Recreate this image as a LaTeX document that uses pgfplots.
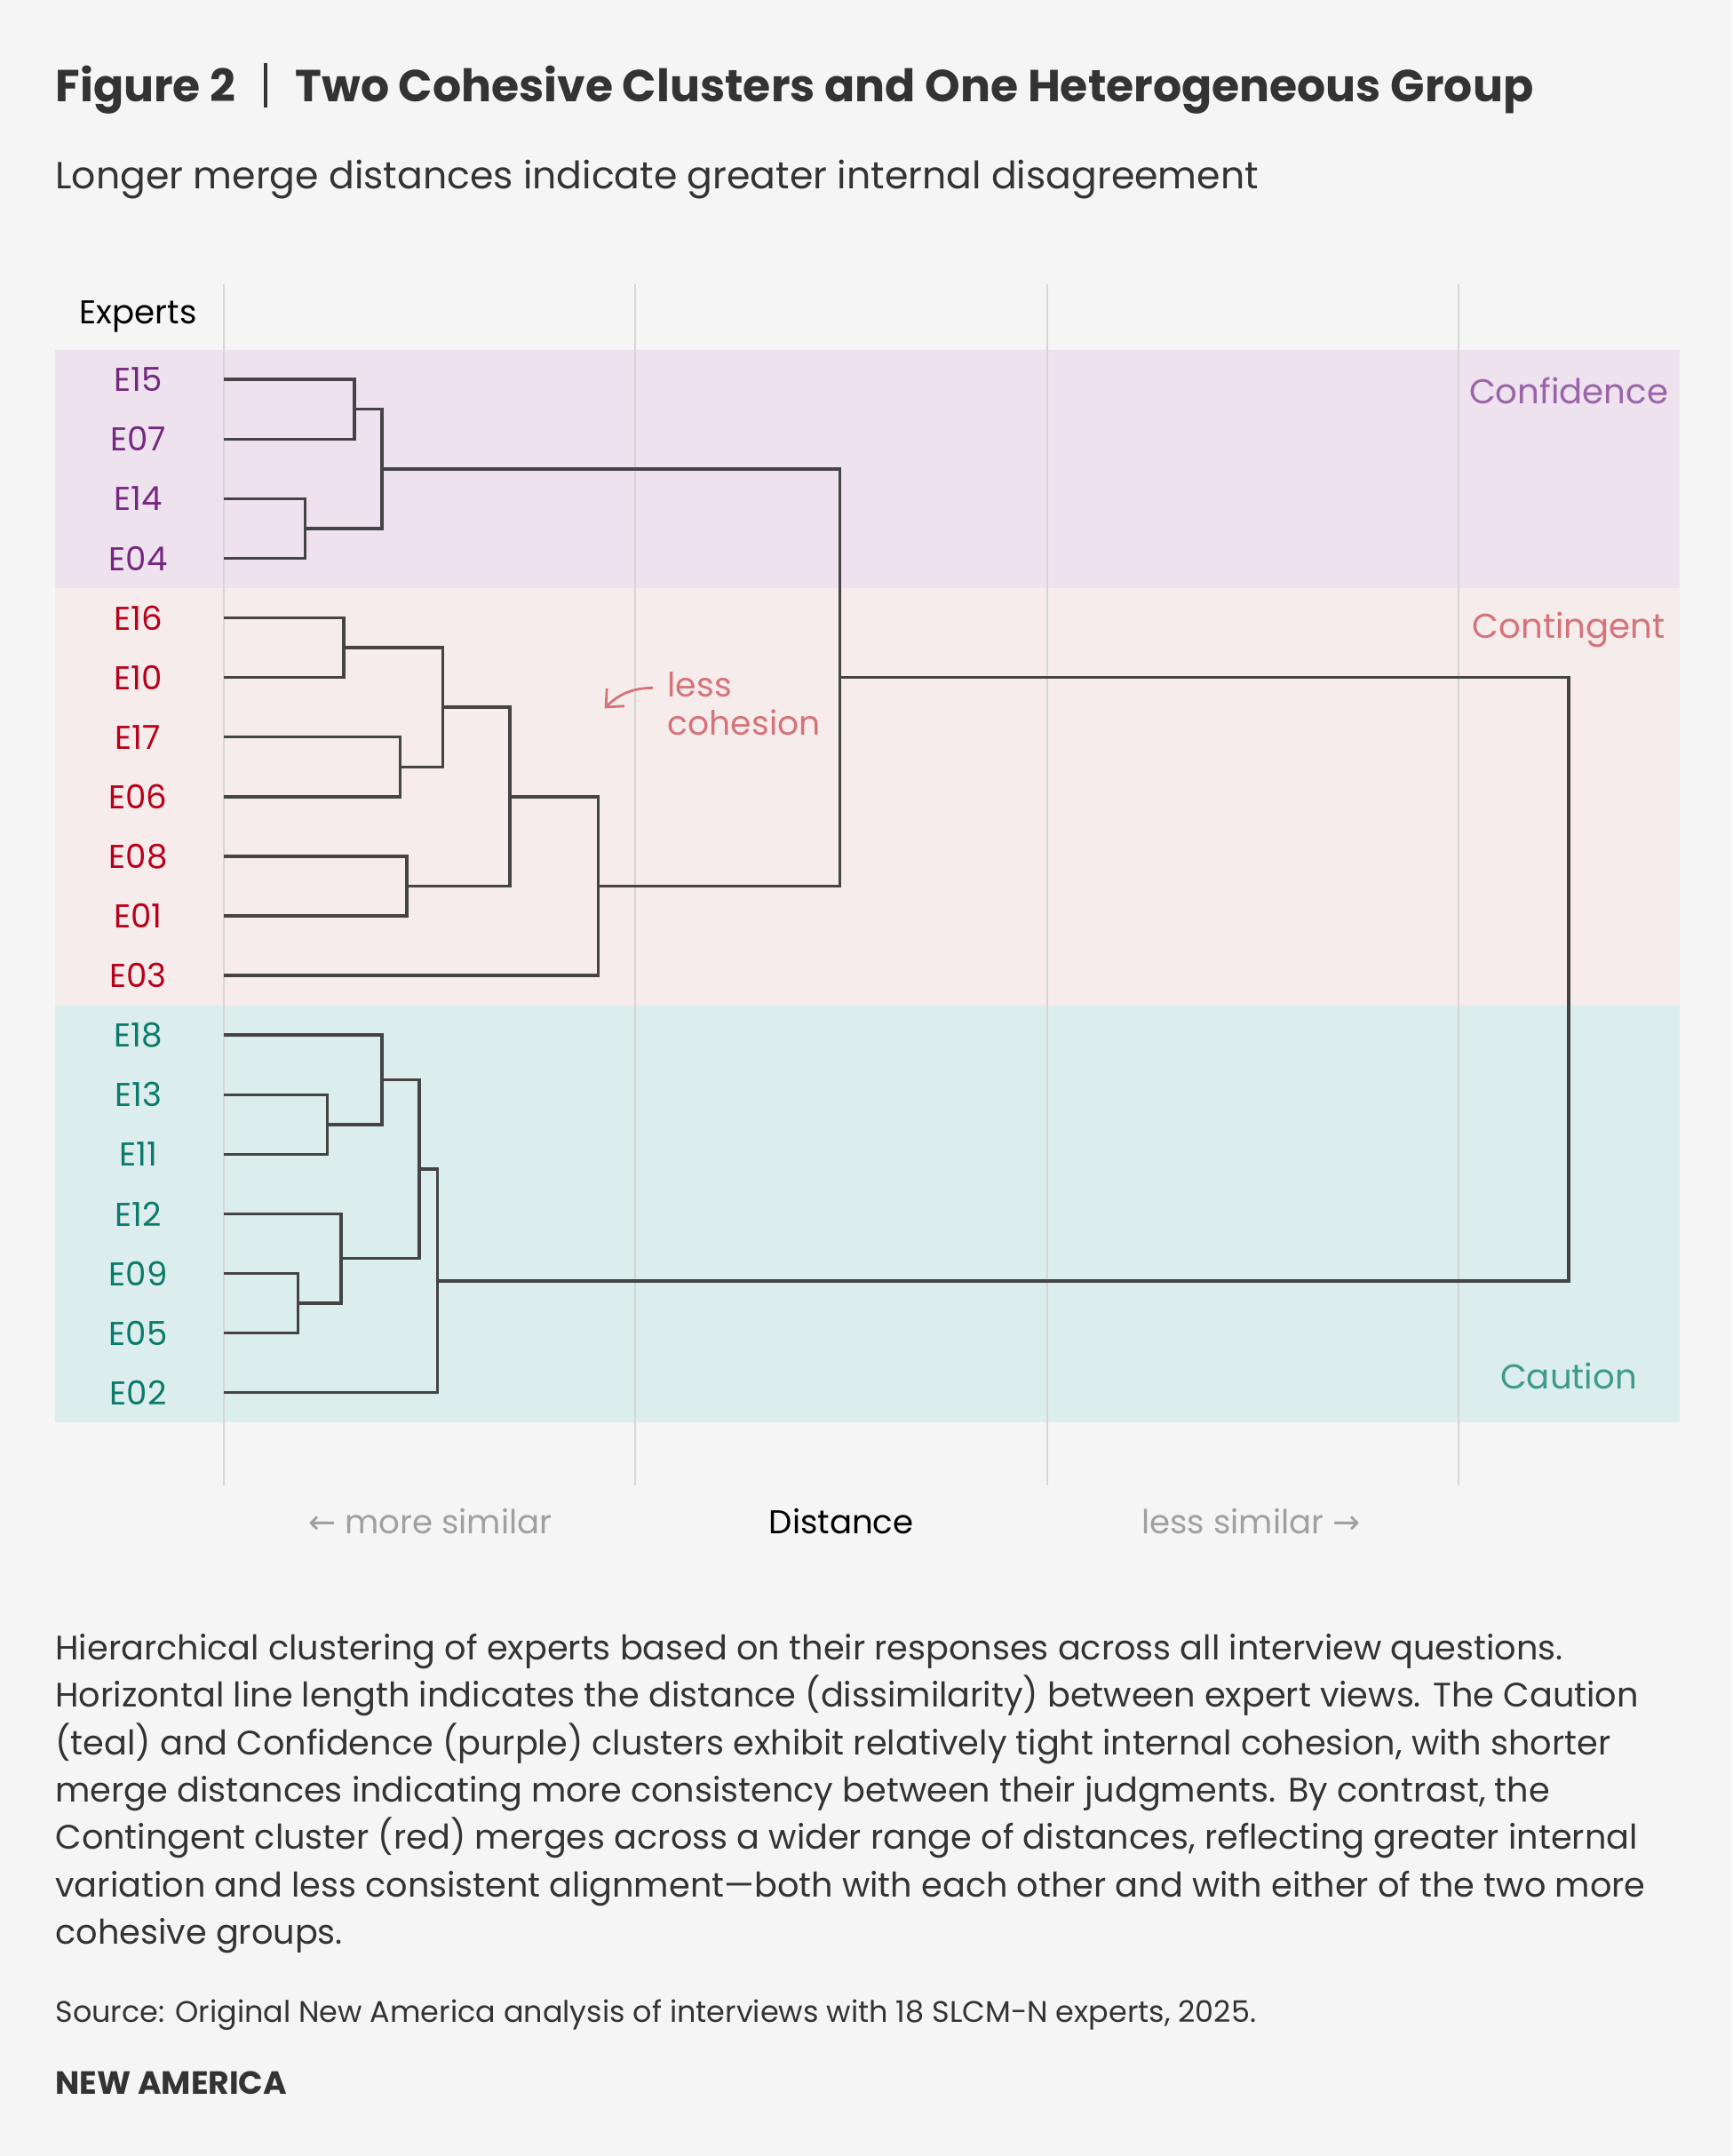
\documentclass[border=0pt]{standalone}
\usepackage{fontspec}
\setmainfont{Poppins}
\newfontfamily\symfont{DejaVu Sans}
\usepackage{pgfplots}
\pgfplotsset{compat=1.18}
\usetikzlibrary{arrows.meta}

\definecolor{bg}{HTML}{F5F5F5}
\definecolor{bandpurple}{HTML}{EEE2EF}
\definecolor{bandred}{HTML}{F6ECEC}
\definecolor{bandteal}{HTML}{DBEDEC}
\definecolor{labpurple}{HTML}{74297F}
\definecolor{labred}{HTML}{B8001B}
\definecolor{labteal}{HTML}{0B7A6B}
\definecolor{grppurple}{HTML}{9B64A8}
\definecolor{grpred}{HTML}{D5737A}
\definecolor{grpteal}{HTML}{3E9A8C}
\definecolor{dendro}{HTML}{444444}
\definecolor{gridc}{HTML}{D6D6D6}
\definecolor{txt}{HTML}{333333}
\definecolor{muted}{HTML}{A0A0A0}

\newcommand{\fs}[1]{\fontsize{#1}{1.2\dimexpr#1\relax}\selectfont}
\tikzset{lab/.style={font=\fs{12pt}}}

\begin{document}
\begin{tikzpicture}
\fill[bg] (0pt,0pt) rectangle (630pt,-784.1pt);

\begin{axis}[
  at={(20pt,-103.32pt)}, anchor=north west,
  scale only axis, width=591pt, height=436.76pt,
  xmin=-0.41096, xmax=3.53826, ymin=-1.6, ymax=18.55,
  y dir=reverse, hide axis, clip=false, no markers,
  every axis plot/.append style={line join=miter},
]
% cluster bands
\addplot[fill=bandpurple, draw=none] coordinates {(-0.41096,-0.5) (3.53826,-0.5) (3.53826,3.5) (-0.41096,3.5)};
\addplot[fill=bandred, draw=none] coordinates {(-0.41096,3.5) (3.53826,3.5) (3.53826,10.5) (-0.41096,10.5)};
\addplot[fill=bandteal, draw=none] coordinates {(-0.41096,10.5) (3.53826,10.5) (3.53826,17.5) (-0.41096,17.5)};

% vertical guides
\addplot[gridc, line width=0.65pt] coordinates {(0,-1.6) (0,18.55)};
\addplot[gridc, line width=0.65pt] coordinates {(1,-1.6) (1,18.55)};
\addplot[gridc, line width=0.65pt] coordinates {(2,-1.6) (2,18.55)};
\addplot[gridc, line width=0.65pt] coordinates {(3,-1.6) (3,18.55)};

% dendrogram links: Confidence
\addplot[dendro, line width=1.1pt] coordinates {(0,0) (0.317,0) (0.317,1) (0,1)};
\addplot[dendro, line width=1.1pt] coordinates {(0,2) (0.197,2) (0.197,3) (0,3)};
\addplot[dendro, line width=1.1pt] coordinates {(0.317,0.5) (0.384,0.5) (0.384,2.5) (0.197,2.5)};
% Contingent
\addplot[dendro, line width=1.1pt] coordinates {(0,4) (0.291,4) (0.291,5) (0,5)};
\addplot[dendro, line width=1.1pt] coordinates {(0,6) (0.428,6) (0.428,7) (0,7)};
\addplot[dendro, line width=1.1pt] coordinates {(0.291,4.5) (0.531,4.5) (0.531,6.5) (0.428,6.5)};
\addplot[dendro, line width=1.1pt] coordinates {(0,8) (0.444,8) (0.444,9) (0,9)};
\addplot[dendro, line width=1.1pt] coordinates {(0.531,5.5) (0.695,5.5) (0.695,8.5) (0.444,8.5)};
\addplot[dendro, line width=1.1pt] coordinates {(0.695,7) (0.909,7) (0.909,10) (0,10)};
\addplot[dendro, line width=1.1pt] coordinates {(0.384,1.5) (1.497,1.5) (1.497,8.5) (0.909,8.5)};
% Caution
\addplot[dendro, line width=1.1pt] coordinates {(0,12) (0.251,12) (0.251,13) (0,13)};
\addplot[dendro, line width=1.1pt] coordinates {(0,11) (0.384,11) (0.384,12.5) (0.251,12.5)};
\addplot[dendro, line width=1.1pt] coordinates {(0,15) (0.180,15) (0.180,16) (0,16)};
\addplot[dendro, line width=1.1pt] coordinates {(0,14) (0.284,14) (0.284,15.5) (0.180,15.5)};
\addplot[dendro, line width=1.1pt] coordinates {(0.384,11.75) (0.474,11.75) (0.474,14.75) (0.284,14.75)};
\addplot[dendro, line width=1.1pt] coordinates {(0.474,13.25) (0.518,13.25) (0.518,17) (0,17)};
% top merge
\addplot[dendro, line width=1.1pt] coordinates {(1.497,5) (3.268,5) (3.268,15.125) (0.518,15.125)};

% expert labels
\node[anchor=base, lab, text=black] at (axis cs:-0.2088,-0.927) {Experts};
\node[lab, text=labpurple] at (axis cs:-0.2088,0) {E15};
\node[lab, text=labpurple] at (axis cs:-0.2088,1) {E07};
\node[lab, text=labpurple] at (axis cs:-0.2088,2) {E14};
\node[lab, text=labpurple] at (axis cs:-0.2088,3) {E04};
\node[lab, text=labred] at (axis cs:-0.2088,4) {E16};
\node[lab, text=labred] at (axis cs:-0.2088,5) {E10};
\node[lab, text=labred] at (axis cs:-0.2088,6) {E17};
\node[lab, text=labred] at (axis cs:-0.2088,7) {E06};
\node[lab, text=labred] at (axis cs:-0.2088,8) {E08};
\node[lab, text=labred] at (axis cs:-0.2088,9) {E01};
\node[lab, text=labred] at (axis cs:-0.2088,10) {E03};
\node[lab, text=labteal] at (axis cs:-0.2088,11) {E18};
\node[lab, text=labteal] at (axis cs:-0.2088,12) {E13};
\node[lab, text=labteal] at (axis cs:-0.2088,13) {E11};
\node[lab, text=labteal] at (axis cs:-0.2088,14) {E12};
\node[lab, text=labteal] at (axis cs:-0.2088,15) {E09};
\node[lab, text=labteal] at (axis cs:-0.2088,16) {E05};
\node[lab, text=labteal] at (axis cs:-0.2088,17) {E02};

% group names
\node[anchor=base, font=\fs{12.5pt}, text=grppurple] at (axis cs:3.268,0.401) {Confidence};
\node[anchor=base, font=\fs{12.5pt}, text=grpred] at (axis cs:3.268,4.339) {Contingent};
\node[anchor=base, font=\fs{12.5pt}, text=grpteal] at (axis cs:3.268,16.94) {Caution};

% annotation
\node[anchor=base west, font=\fs{12.2pt}, text=grpred, inner sep=0pt] at (axis cs:1.0768,5.329) {less};
\node[anchor=base west, font=\fs{12.2pt}, text=grpred, inner sep=0pt] at (axis cs:1.0768,5.965) {cohesion};
\draw[grpred, line width=0.9pt, -{Straight Barb[length=5pt,width=9pt]}]
  (axis cs:1.0424,5.174) to[bend right=22] (axis cs:0.9248,5.518);
\end{axis}

\begin{scope}[x=0.5pt, y=-0.5pt]
\node[anchor=base west, inner sep=0pt, font=\fs{16.3pt}\bfseries, text=txt] at (40,73.7)
  {Figure 2\hspace{10.2pt}{\color{txt}\rule[-2.4pt]{1.3pt}{16.4pt}}\hspace{10.2pt}Two Cohesive Clusters and One Heterogeneous Group};
\node[anchor=base west, inner sep=0pt, font=\fs{13.75pt}, text=txt] at (40,137.4)
  {Longer merge distances indicate greater internal disagreement};

\node[anchor=base, inner sep=0pt, font=\fs{12pt}, text=muted] at (313,1115.3) {{\symfont ←} more similar};
\node[anchor=base, inner sep=0pt, font=\fs{12pt}, text=black] at (612,1115.3) {Distance};
\node[anchor=base, inner sep=0pt, font=\fs{12pt}, text=muted] at (910,1115.3) {less similar {\symfont →}};

\node[anchor=base west, inner sep=0pt, font=\fs{12.35pt}, text=txt] at (40,1207.2)
  {Hierarchical clustering of experts based on their responses across all interview questions.};
\node[anchor=base west, inner sep=0pt, font=\fs{12.35pt}, text=txt] at (40,1241.7)
  {Horizontal line length indicates the distance (dissimilarity) between expert views. The Caution};
\node[anchor=base west, inner sep=0pt, font=\fs{12.35pt}, text=txt] at (40,1276.2)
  {(teal) and Confidence (purple) clusters exhibit relatively tight internal cohesion, with shorter};
\node[anchor=base west, inner sep=0pt, font=\fs{12.35pt}, text=txt] at (40,1310.7)
  {merge distances indicating more consistency between their judgments. By contrast, the};
\node[anchor=base west, inner sep=0pt, font=\fs{12.35pt}, text=txt] at (40,1345.2)
  {Contingent cluster (red) merges across a wider range of distances, reflecting greater internal};
\node[anchor=base west, inner sep=0pt, font=\fs{12.35pt}, text=txt] at (40,1379.7)
  {variation and less consistent alignment—both with each other and with either of the two more};
\node[anchor=base west, inner sep=0pt, font=\fs{12.35pt}, text=txt] at (40,1414.2)
  {cohesive groups.};

\node[anchor=base west, inner sep=0pt, font=\fs{10.8pt}, text=txt] at (40,1470.7)
  {Source: Original New America analysis of interviews with 18 SLCM-N experts, 2025.};
\node[anchor=base west, inner sep=0pt, font=\fs{11.7pt}\bfseries, text=txt] at (40,1523.2)
  {NEW AMERICA};
\end{scope}
\end{tikzpicture}
\end{document}
